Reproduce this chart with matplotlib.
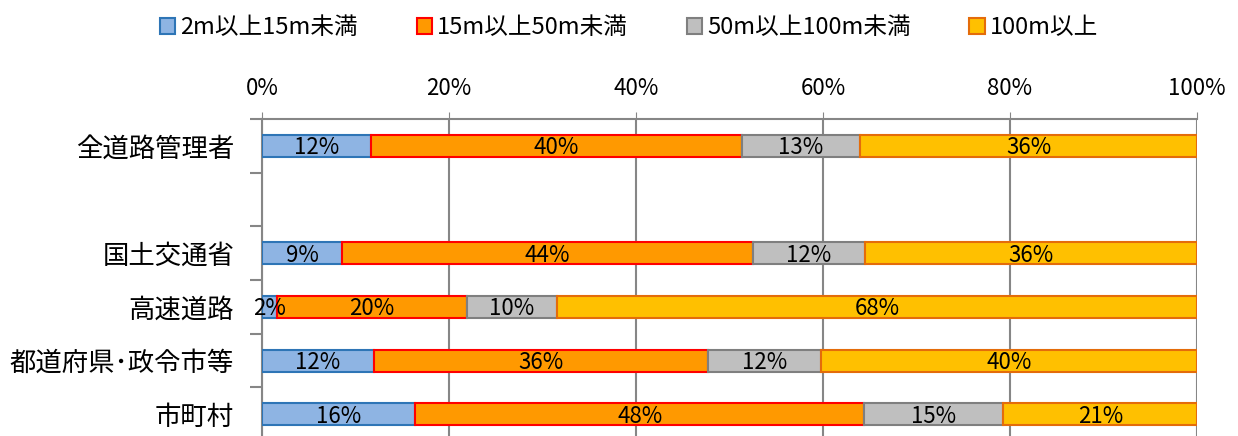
import matplotlib
matplotlib.use("Agg")
import matplotlib.pyplot as plt
import numpy as np

plt.rcParams['font.family'] = ['Noto Sans CJK JP', 'DejaVu Sans']

# data (share %, top to bottom; '' is the empty gap row)
categories = ['全道路管理者', '', '国土交通省', '高速道路', '都道府県･政令市等', '市町村']
series_names = ['2m以上15m未満', '15m以上50m未満', '50m以上100m未満', '100m以上']
s_2_15 = [11.7, np.nan, 8.6, 1.6, 12.0, 16.4]
s_15_50 = [39.6, np.nan, 43.9, 20.3, 35.7, 48.0]
s_50_100 = [12.7, np.nan, 12.0, 9.7, 12.1, 14.9]
s_100 = [36.0, np.nan, 35.5, 68.4, 40.2, 20.7]

fills = ['#8EB4E3', '#FF9900', '#BFBFBF', '#FFC000']
edges = ['#2E75B6', '#FF0000', '#7F7F7F', '#E46C0A']
grid_c = '#868686'

fig = plt.figure(figsize=(12.38, 4.36), dpi=100)
ax = fig.add_axes([0.2116, -0.0115, 0.7553, 0.7386])

y = np.arange(len(categories))
has = ~np.isnan(np.array(s_2_15))
left = np.zeros(len(categories))
handles = []
for vals, fc, ec, name in zip([s_2_15, s_15_50, s_50_100, s_100], fills, edges, series_names):
    v = np.array(vals)
    b = ax.barh(y[has], v[has], left=left[has], height=0.41, color=fc,
                edgecolor=ec, linewidth=1.5, label=name, zorder=3)
    handles.append(b)
    for yi, l, w in zip(y[has], left[has], v[has]):
        ax.text(l + w / 2, yi + 0.04, f"{w:.0f}%", ha='center', va='center',
                fontsize=16, color='black', zorder=4)
    left = left + np.nan_to_num(v)

ax.set_xlim(0, 100)
ax.set_ylim(len(categories) - 0.5, -0.5)
ax.xaxis.tick_top()
ax.set_xticks(np.arange(0, 101, 20))
ax.set_xticklabels([f"{t}%" for t in range(0, 101, 20)], fontsize=16)
ax.tick_params(axis='x', length=5, color=grid_c, pad=9)
ax.set_yticks(y)
ax.set_yticklabels(categories, fontsize=19)
ax.tick_params(axis='y', length=0, pad=20)
ax.set_yticks(np.arange(-0.5, len(categories), 1), minor=True)
ax.tick_params(axis='y', which='minor', length=9, color=grid_c, width=1.5)
ax.grid(axis='x', color=grid_c, linewidth=1.5, zorder=0)
for s in ['right', 'bottom']:
    ax.spines[s].set_visible(False)
for s in ['top', 'left']:
    ax.spines[s].set_color(grid_c)
    ax.spines[s].set_linewidth(1.5)

fig.legend(handles=handles, loc='center', bbox_to_anchor=(0.508, 0.936), ncol=4,
           frameon=False, fontsize=17, handlelength=0.65, handleheight=0.65,
           handletextpad=0.2, columnspacing=2.5)

fig.savefig('out.png', dpi=100)
